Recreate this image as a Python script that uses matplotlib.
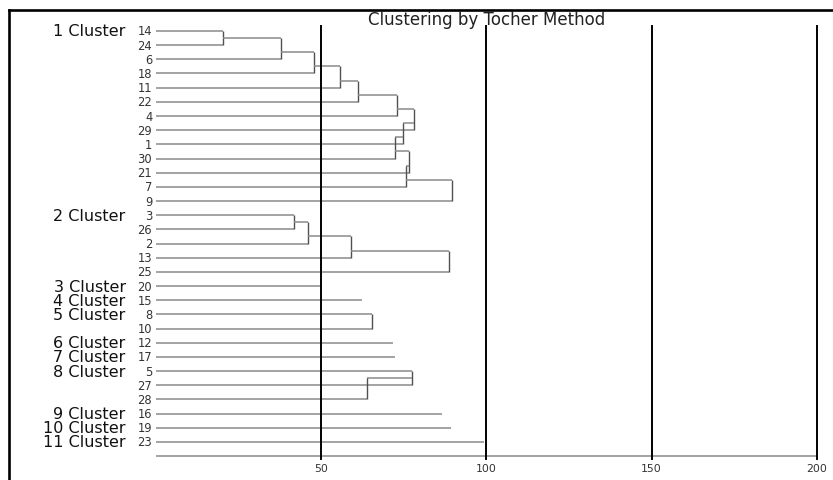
import matplotlib

matplotlib.use("Agg")
import matplotlib.pyplot as plt
from matplotlib.lines import Line2D

# Tocher clusters: leaf order (top to bottom) and the joining distances of each chain
cluster_names = ["1 Cluster", "2 Cluster", "3 Cluster", "4 Cluster", "5 Cluster", "6 Cluster",
                 "7 Cluster", "8 Cluster", "9 Cluster", "10 Cluster", "11 Cluster"]
cluster_members = [
    [14, 24, 6, 18, 11, 22, 4, 29, 1, 30, 21, 7, 9],
    [3, 26, 2, 13, 25],
    [20],
    [15],
    [8, 10],
    [12],
    [17],
    [5, 27, 28],
    [16],
    [19],
    [23],
]
cluster_heights = [
    [20.5, 37.8, 48.0, 55.8, 61.2, 72.9, 78.2, 74.7, 72.4, 76.7, 75.7, 89.7],
    [41.9, 46.2, 59.1, 88.7],
    [50.4],
    [62.3],
    [65.4],
    [71.7],
    [72.4],
    [77.7, 64.0],
    [86.6],
    [89.2],
    [99.2],
]
axis_ticks = [50, 100, 150, 200]
title = "Clustering by Tocher Method"

W, H = 833, 481
fig = plt.figure(figsize=(W / 100, H / 100), dpi=100)
plt.rcParams["font.family"] = ["DejaVu Sans"]

# axes placed in pixel terms: x=0 at 155.5px, x=200 at 817px; rows span 27..460px
ax = fig.add_axes([155.5 / W, 1 - 460 / H, (817 - 155.5) / W, (460 - 27) / H])
ax.set_xlim(0, 200)
ax.set_ylim(30.2, -0.35)

HCOL = "#8a8a8a"
VCOL = "#505050"


def hline(y, x0, x1):
    ax.plot([x0, x1], [y, y], color=HCOL, linewidth=1.1, solid_capstyle="butt", zorder=2)


def vline(x, y0, y1):
    ax.plot([x, x], [y0, y1], color=VCOL, linewidth=1.0, solid_capstyle="butt", zorder=2)


row = 0
for name, leaves, heights in zip(cluster_names, cluster_members, cluster_heights):
    ax.text(-9.0, row, name, ha="right", va="center", fontsize=11.5, color="#111111")
    n = len(leaves)
    for k, leaf in enumerate(leaves):
        h = heights[max(k - 1, 0)]
        hline(row + k, 0, h)
        ax.text(-1.0, row + k, str(leaf), ha="right", va="center", fontsize=8.3, color="#333333")
    if n > 1:
        vline(heights[0], row, row + 1)
    for k in range(2, n):
        r = row + k
        hline(r - 1.5, heights[k - 2], heights[k - 1])
        vline(heights[k - 1], r - 1.5, r)
    row += n

# base line under the last leaf
hline(row, 0, 200)

for t in axis_ticks:
    ax.axvline(t, color="black", linewidth=1.4, zorder=3, clip_on=False)

ax.set_xticks(axis_ticks)
ax.set_xticklabels([str(t) for t in axis_ticks])
ax.tick_params(axis="x", length=0, pad=3, labelsize=7.8, labelcolor="#333333")
ax.set_yticks([])
for s in ax.spines.values():
    s.set_visible(False)

fig.text(487 / W, 1 - 25 / H, title, ha="center", va="baseline", fontsize=12, color="#222222")

# thick frame on the left and top
fig.add_artist(Line2D([8.5 / W, 8.5 / W], [0, 1 - 10.5 / H], color="black", linewidth=1.9))
fig.add_artist(Line2D([8.5 / W, 1], [1 - 10.5 / H, 1 - 10.5 / H], color="black", linewidth=1.9))

fig.savefig("out.png", dpi=100)
